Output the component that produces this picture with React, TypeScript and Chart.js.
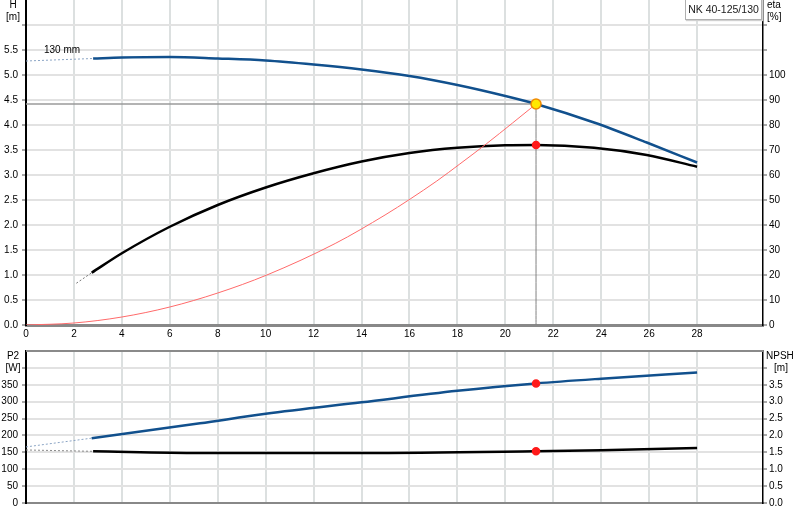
import React, { useEffect, useRef } from "react";
import { Chart, registerables } from "chart.js";

Chart.register(...registerables);

// Q [m3/h] / H [m] pump curve
const headFlow = [2.8, 4, 6, 8, 10, 12, 14, 16, 18, 20, 21.28, 23.7, 25.9, 28];
const headValues = [5.33, 5.35, 5.36, 5.33, 5.29, 5.21, 5.11, 4.98, 4.8, 4.58, 4.42, 4.05, 3.65, 3.25];
const headExtFlow = [0, 2.8];
const headExtValues = [5.28, 5.33];

// efficiency [%]
const etaFlow = [2.74, 4, 6, 8, 10, 12, 14, 16, 18, 20, 21.28, 23.7, 25.9, 28];
const etaValues = [20.9, 28.7, 39.3, 48, 55, 60.7, 65.4, 68.8, 70.9, 71.9, 72, 70.9, 68, 63.3];
const etaExtFlow = [2.1, 2.74];
const etaExtValues = [16.7, 20.9];

// system curve
const systemFlow = [0, 2, 4, 6, 8, 10.05, 12.9, 14.98, 16.03, 17.14, 18.1, 19.2, 20.3, 21.28];
const systemHead = [0, 0.04, 0.16, 0.36, 0.64, 1.0, 1.63, 2.2, 2.52, 2.88, 3.22, 3.62, 4.04, 4.42];

// P2 [W]
const powerFlow = [2.74, 7.26, 10, 14, 18, 21.28, 24, 28];
const powerValues = [192, 236, 264, 298, 332, 354, 368, 386];
const powerExtFlow = [0, 2.74];
const powerExtValues = [166, 192];

// NPSH [m]
const npshFlow = [2.8, 7.26, 14, 21.28, 24, 28];
const npshValues = [1.53, 1.48, 1.48, 1.53, 1.56, 1.63];
const npshExtFlow = [0, 2.8];
const npshExtValues = [1.57, 1.53];

// duty point
const dutyFlow = 21.28;
const dutyHead = 4.42;
const dutyEta = 72;
const dutyPower = 354;
const dutyNpsh = 1.53;

const FONT = '"Liberation Sans", Arial, sans-serif';
const BLUE = "#11508d";
const GRID = "#e2e2e2";
const VGRID = "#dce0e0";

const zip = (xs: number[], ys: number[]) => xs.map((x, i) => ({ x, y: ys[i] }));

const line = (data: any, color: string, width: number, axis: string, extra: any = {}) => ({
  data,
  borderColor: color,
  borderWidth: width,
  pointRadius: 0,
  fill: false,
  cubicInterpolationMode: "monotone",
  yAxisID: axis,
  ...extra,
});

const marker = (data: any, axis: string, bg: string, border: string, r: number) => ({
  data,
  yAxisID: axis,
  showLine: false,
  pointRadius: r,
  pointBackgroundColor: bg,
  pointBorderColor: border,
  pointBorderWidth: 1.5,
  order: 0,
});

const noPad = (s: any) => {
  s.paddingTop = 0;
  s.paddingBottom = 0;
  s.paddingLeft = 0;
  s.paddingRight = 0;
};

const xScale = (labels: boolean) => ({
  type: "linear",
  min: 0,
  max: 30.75,
  afterBuildTicks: (s: any) => {
    s.ticks = s.ticks.filter((t: any) => t.value <= 30);
  },
  afterFit: (s: any) => {
    s.height = labels ? 20 : 17;
    noPad(s);
  },
  ticks: {
    display: labels,
    stepSize: 2,
    padding: 3,
    color: "#000",
    font: { family: FONT, size: 10 },
    callback: (v: any) => (v === 30 ? "Q [m³/h]" : String(v)),
  },
  grid: { color: VGRID, lineWidth: 2, drawTicks: false },
  border: { color: "#888", width: labels ? 3 : 2 },
});

const yScale = (
  pos: "left" | "right",
  max: number,
  step: number,
  lastShown: number,
  fmt: (v: number) => string,
  width: number,
  grid: boolean
) => ({
  type: "linear",
  position: pos,
  min: 0,
  max,
  afterFit: (s: any) => {
    s.width = width;
    noPad(s);
  },
  ticks: {
    stepSize: step,
    padding: pos === "left" ? 4 : 2,
    color: "#000",
    font: { family: FONT, size: 10 },
    callback: (v: any) => {
      if (v >= max - 1e-6) return null;
      return v > lastShown + 1e-6 ? "" : fmt(v);
    },
  },
  grid: {
    color: GRID,
    lineWidth: 2,
    drawOnChartArea: grid,
    tickLength: 4,
    tickColor: "#555",
    tickWidth: 1,
  },
  border: { color: "#000", width: pos === "left" ? 2 : 1.5 },
});

const topFrame = {
  id: "topFrame",
  afterDraw(chart: any) {
    const { ctx, chartArea } = chart;
    ctx.save();
    ctx.strokeStyle = "#8a8a8a";
    ctx.lineWidth = 2;
    ctx.beginPath();
    ctx.moveTo(chartArea.left, chartArea.top);
    ctx.lineTo(chartArea.right, chartArea.top);
    ctx.stroke();
    ctx.restore();
  },
};

const baseOptions = {
  responsive: true,
  maintainAspectRatio: false,
  animation: false,
  events: [],
  plugins: { legend: { display: false }, tooltip: { enabled: false } },
};

const text = (left: number, top: number, s: string, extra: any = {}) => (
  <div
    style={{
      position: "absolute",
      left,
      top,
      font: `10px ${FONT}`,
      lineHeight: "12px",
      color: "#000",
      whiteSpace: "nowrap",
      ...extra,
    }}
  >
    {s}
  </div>
);

export default function App() {
  const topRef = useRef<HTMLCanvasElement | null>(null);
  const bottomRef = useRef<HTMLCanvasElement | null>(null);

  useEffect(() => {
    const charts: Chart[] = [];
    if (topRef.current) {
      charts.push(
        new Chart(topRef.current, {
          type: "line",
          data: {
            datasets: [
              marker([{ x: dutyFlow, y: dutyHead }], "h", "#ffe800", "#f08a00", 5),
              marker([{ x: dutyFlow, y: dutyEta }], "eta", "#ff1a1a", "#ff1a1a", 3.5),
              line(zip(systemFlow, systemHead), "#ff6a6a", 1, "h", { order: 1 }),
              line(zip(headFlow, headValues), BLUE, 2.5, "h", { order: 2 }),
              line(zip(etaFlow, etaValues), "#000", 2.5, "eta", { order: 2 }),
              line(zip(headExtFlow, headExtValues), "#8aa4c4", 1, "h", { borderDash: [2, 2], order: 3 }),
              line(zip(etaExtFlow, etaExtValues), "#777", 1, "eta", { borderDash: [2, 2], order: 3 }),
              line(zip([0, dutyFlow], [dutyHead, dutyHead]), "#9a9a9a", 1.5, "h", { order: 4 }),
              line(zip([dutyFlow, dutyFlow], [dutyHead, 0]), "#808080", 1, "h", { order: 4 }),
            ] as any,
          },
          options: {
            ...baseOptions,
            layout: { padding: 0, autoPadding: false },
            scales: {
              x: xScale(true),
              h: yScale("left", 6.5, 0.5, 5.5, (v) => v.toFixed(1), 26, true),
              eta: yScale("right", 130, 10, 100, (v) => String(v), 37, false),
            },
          } as any,
        })
      );
    }
    if (bottomRef.current) {
      charts.push(
        new Chart(bottomRef.current, {
          type: "line",
          data: {
            datasets: [
              marker([{ x: dutyFlow, y: dutyPower }], "p2", "#ff1a1a", "#ff1a1a", 3.5),
              marker([{ x: dutyFlow, y: dutyNpsh }], "npsh", "#ff1a1a", "#ff1a1a", 3.5),
              line(zip(powerFlow, powerValues), BLUE, 2.5, "p2", { order: 2 }),
              line(zip(npshFlow, npshValues), "#000", 2.5, "npsh", { order: 2 }),
              line(zip(powerExtFlow, powerExtValues), "#8aa4c4", 1, "p2", { borderDash: [2, 2], order: 3 }),
              line(zip(npshExtFlow, npshExtValues), "#888", 1, "npsh", { borderDash: [2, 2], order: 3 }),
            ] as any,
          },
          options: {
            ...baseOptions,
            layout: { padding: { top: 6 }, autoPadding: false },
            scales: {
              x: xScale(false),
              p2: yScale("left", 450, 50, 350, (v) => String(v), 26, true),
              npsh: yScale("right", 4.5, 0.5, 3.5, (v) => v.toFixed(1), 37, false),
            },
          } as any,
          plugins: [topFrame],
        })
      );
    }
    return () => {
      charts.forEach((c) => c.destroy());
    };
  }, []);

  return (
    <div
      style={{
        position: "fixed",
        left: 0,
        top: 0,
        width: 800,
        height: 520,
        background: "#fff",
        overflow: "hidden",
      }}
    >
      <div style={{ position: "absolute", left: 0, top: 0, width: 800, height: 345 }}>
        <canvas ref={topRef} />
      </div>
      <div style={{ position: "absolute", left: 0, top: 345, width: 800, height: 175 }}>
        <canvas ref={bottomRef} />
      </div>

      {text(0, -1, "H", { width: 26, textAlign: "center" })}
      {text(0, 11, "[m]", { width: 26, textAlign: "center" })}
      {text(767, -1, "eta")}
      {text(767, 11, "[%]")}
      {text(44, 44, "130 mm")}
      <div
        style={{
          position: "absolute",
          left: 685,
          top: -1,
          width: 75,
          height: 19,
          border: "1px solid #b0b0b0",
          boxShadow: "1px 1px 1px #d0d0d0",
          background: "#fff",
          font: `10.5px ${FONT}`,
          lineHeight: "19px",
          textAlign: "center",
          color: "#1a1a1a",
          whiteSpace: "nowrap",
        }}
      >
        NK 40-125/130
      </div>

      {text(0, 350, "P2", { width: 26, textAlign: "center" })}
      {text(0, 362, "[W]", { width: 26, textAlign: "center" })}
      {text(766, 350, "NPSH")}
      {text(766, 362, "[m]", { width: 30, textAlign: "center" })}
    </div>
  );
}
